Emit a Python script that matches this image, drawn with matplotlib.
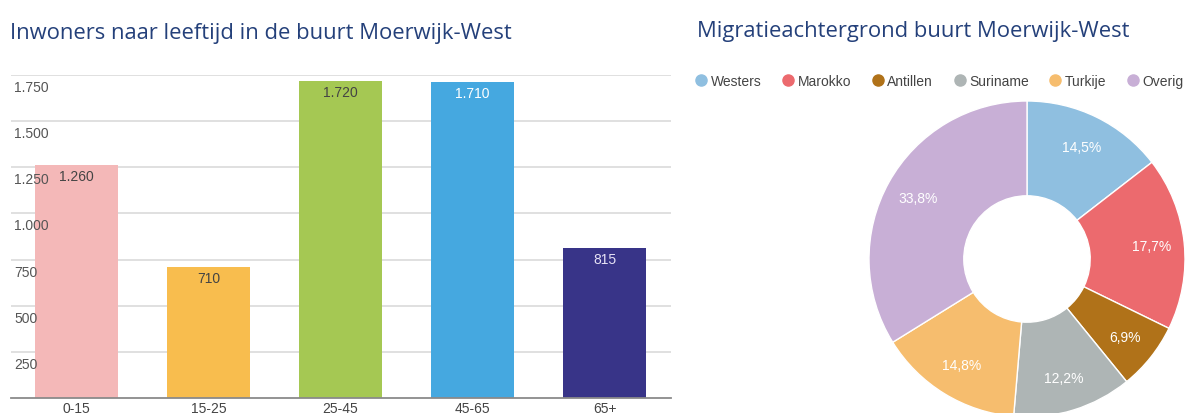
import matplotlib
matplotlib.use("Agg")
import matplotlib.pyplot as plt
from matplotlib.lines import Line2D

# ---- data ----
age_groups = ["0-15", "15-25", "25-45", "45-65", "65+"]
inhabitants = [1260, 710, 1720, 1710, 815]
inhabitant_labels = ["1.260", "710", "1.720", "1.710", "815"]
bar_colors = ["#f4b8b8", "#f8bd4e", "#a5c853", "#45a8e0", "#383488"]
bar_label_colors = ["#444444", "#444444", "#444444", "#ffffff", "#e6e2f5"]
y_ticks = [250, 500, 750, 1000, 1250, 1500, 1750]
y_tick_labels = ["250", "500", "750", "1.000", "1.250", "1.500", "1.750"]

origins = ["Westers", "Marokko", "Antillen", "Suriname", "Turkije", "Overig"]
origin_shares = [14.5, 17.7, 6.9, 12.2, 14.8, 33.8]
origin_labels = ["14,5%", "17,7%", "6,9%", "12,2%", "14,8%", "33,8%"]
origin_colors = ["#8fbfe0", "#ec6a6e", "#b07219", "#aeb5b5", "#f6bd6e", "#c8afd6"]

title_left = "Inwoners naar leeftijd in de buurt Moerwijk-West"
title_right = "Migratieachtergrond buurt Moerwijk-West"

W, H = 1190, 414
fig = plt.figure(figsize=(W / 100, H / 100), dpi=100)
fig.patch.set_facecolor("white")

def px_axes(x0, y0_top, x1, y1_top):
    return fig.add_axes([x0 / W, 1 - y1_top / H, (x1 - x0) / W, (y1_top - y0_top) / H])

title_color = "#24407a"
title_font = "Open Sans"
fig.text(10 / W, 1 - 33 / H, title_left, fontsize=15.8, color=title_color,
         family=title_font, va="center", ha="left")
fig.text(697 / W, 1 - 31 / H, title_right, fontsize=15.8, color=title_color,
         family=title_font, va="center", ha="left")

lab_font = "Liberation Sans"

# ---- bar chart ----
ax = px_axes(10.5, 76, 670.5, 399)
x = list(range(len(age_groups)))
ax.bar(x, inhabitants, width=0.63, color=bar_colors, zorder=2)
ax.set_xlim(-0.5, 4.5)
ax.set_ylim(0, 1750)
ax.set_yticks(y_ticks)
ax.set_yticklabels([])
ax.tick_params(axis="y", length=0)
ax.yaxis.grid(True, color="#dddddd", linewidth=1.3, zorder=0)
ax.set_axisbelow(True)
for s in ["top", "right", "left"]:
    ax.spines[s].set_visible(False)
ax.spines["bottom"].set_color("#8a8a8a")
ax.spines["bottom"].set_linewidth(1.3)
ax.set_xticks(x)
ax.set_xticklabels(age_groups, fontsize=10, color="#444444", family=lab_font)
ax.tick_params(axis="x", length=0, pad=2)

for v, lab in zip(y_ticks, y_tick_labels):
    ax.annotate(lab, xy=(0, v), xycoords=("axes fraction", "data"),
                xytext=(3.5, -5), textcoords="offset pixels",
                ha="left", va="top", fontsize=10, color="#555555",
                family=lab_font, zorder=3)

for xi, v, lab, c in zip(x, inhabitants, inhabitant_labels, bar_label_colors):
    ax.annotate(lab, xy=(xi, v), xycoords="data", xytext=(0, -4),
                textcoords="offset pixels", ha="center", va="top",
                fontsize=10, color=c, family=lab_font, zorder=3)

# ---- donut chart ----
cx, cy, R = 1027, 260, 158
pax = px_axes(cx - R, cy - R, cx + R, cy + R)
wedges, texts, autotexts = pax.pie(
    origin_shares, colors=origin_colors, startangle=90, counterclock=False,
    radius=1.0, autopct="%1.1f", pctdistance=0.79,
    wedgeprops=dict(width=0.6, edgecolor="white", linewidth=1.0),
    textprops=dict(color="white", fontsize=10, family=lab_font))
for t, lab in zip(autotexts, origin_labels):
    t.set_text(lab)
pax.set_xlim(-1, 1)
pax.set_ylim(-1, 1)
pax.set_aspect("equal")
pax.axis("off")

handles = [Line2D([0], [0], marker="o", linestyle="", markersize=8,
                  markerfacecolor=c, markeredgecolor=c) for c in origin_colors]
leg = fig.legend(handles, origins, loc="center left",
                 bbox_to_anchor=(695 / W, 1 - 82 / H), ncol=6, frameon=False,
                 prop=dict(family=lab_font, size=10),
                 handletextpad=0.25, columnspacing=1.45, handlelength=0.9,
                 borderaxespad=0, borderpad=0)
for t in leg.get_texts():
    t.set_color("#444444")

fig.savefig("out.png", dpi=100, facecolor="white")
